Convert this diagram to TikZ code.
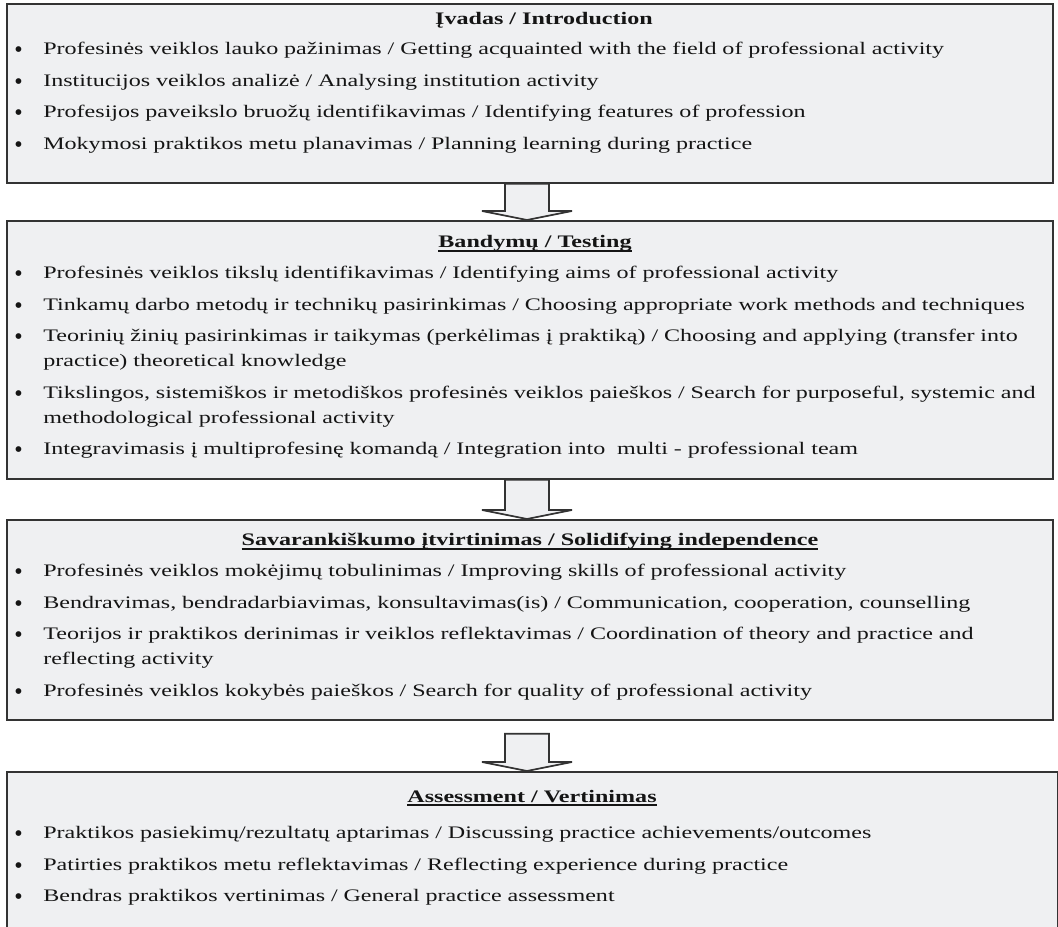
\documentclass[tikz,border=0pt]{standalone}
\usepackage{fontspec}
\setmainfont{Liberation Serif}[FakeStretch=1.368]
\newfontfamily\dotfont{Liberation Serif}
\usetikzlibrary{calc}

\definecolor{boxfill}{HTML}{EFF0F2}
\definecolor{boxline}{HTML}{333333}
\definecolor{ink}{HTML}{151515}

% one bullet line of a stage
\newcommand{\itm}[1]{\par\parskip=4.9pt\hangindent=21.75pt\hangafter=1\noindent
  \makebox[21.75pt][l]{\raisebox{-2.4pt}{\dotfont\fontsize{18}{18}\selectfont\textbullet}}#1}
\newcommand{\lined}[1]{\setbox0=\hbox{#1}\rlap{\rule[-2.7pt]{\wd0}{1pt}}\box0}

\tikzset{
  stage/.style={draw=boxline, fill=boxfill, line width=1.3pt, inner sep=0pt, anchor=north west},
  heading/.style={anchor=base, inner sep=0pt, text=ink, font=\fontsize{13.2}{15}\selectfont\bfseries},
  points/.style={anchor=base west, inner sep=0pt, text=ink, text width=800pt, align=left,
    font=\fontsize{13.2}{18.75}\selectfont},
  flow/.style={draw=boxline, fill=boxfill, line width=1.3pt, line join=miter}
}

\begin{document}
\begin{tikzpicture}[x=0.75pt,y=-0.75pt]
  \useasboundingbox (0,0) rectangle (1058,927);
  \clip (0,0) rectangle (1058,927);

  % the four stages
  \node[stage, minimum width=784.5pt, minimum height=134.25pt] (intro) at (6,3) {};
  \node[stage, minimum width=784.5pt, minimum height=193.5pt] (testing) at (6,220) {};
  \node[stage, minimum width=784.5pt, minimum height=150pt] (solid) at (6,519) {};
  \node[stage, minimum width=788.25pt, minimum height=150pt] (assess) at (6,771) {};

  \node[heading] (introT) at ($(intro.north west)+(538,22)$) {Įvadas / Introduction};
  \node[points] (introL) at ($(intro.north west)+(8,20)$) {%
    \itm{Profesinės veiklos lauko pažinimas / Getting acquainted with the field of professional activity}
    \itm{Institucijos veiklos analizė / Analysing institution activity}
    \itm{Profesijos paveikslo bruožų identifikavimas / Identifying features of profession}
    \itm{Mokymosi praktikos metu planavimas / Planning learning during practice}};

  \node[heading] (testingT) at ($(testing.north west)+(529,28)$) {\lined{Bandymų / Testing}};
  \node[points] (testingL) at ($(testing.north west)+(8,27)$) {%
    \itm{Profesinės veiklos tikslų identifikavimas / Identifying aims of professional activity}
    \itm{Tinkamų darbo metodų ir technikų pasirinkimas / Choosing appropriate work methods and techniques}
    \itm{Teorinių žinių pasirinkimas ir taikymas (perkėlimas į praktiką) / Choosing and applying (transfer into\newline
      practice) theoretical knowledge}
    \itm{Tikslingos, sistemiškos ir metodiškos profesinės veiklos paieškos / Search for purposeful, systemic and\newline
      methodological professional activity}
    \itm{Integravimasis į multiprofesinę komandą / Integration into\ \ multi - professional team}};

  \node[heading] (solidT) at ($(solid.north west)+(524,27)$) {\lined{Savarankiškumo įtvirtinimas / Solidifying independence}};
  \node[points] (solidL) at ($(solid.north west)+(8,26)$) {%
    \itm{Profesinės veiklos mokėjimų tobulinimas / Improving skills of professional activity}
    \itm{Bendravimas, bendradarbiavimas, konsultavimas(is) / Communication, cooperation, counselling}
    \itm{Teorijos ir praktikos derinimas ir veiklos reflektavimas / Coordination of theory and practice and\newline
      reflecting activity}
    \itm{Profesinės veiklos kokybės paieškos / Search for quality of professional activity}};

  \node[heading] (assessT) at ($(assess.north west)+(526,31)$) {\lined{Assessment / Vertinimas}};
  \node[points] (assessL) at ($(assess.north west)+(8,36)$) {%
    \itm{Praktikos pasiekimų/rezultatų aptarimas / Discussing practice achievements/outcomes}
    \itm{Patirties praktikos metu reflektavimas / Reflecting experience during practice}
    \itm{Bendras praktikos vertinimas / General practice assessment}};

  % block arrows between stages
  \coordinate (axis) at (527,0);
  \draw[flow] ($(axis |- intro.south)+(-22,0)$) -- ($(axis |- testing.north)+(-22,-9)$) -- ++(-23,0)
    -- (axis |- testing.north) -- ++(45,-9) -- ++(-23,0) -- ($(axis |- intro.south)+(22,0)$) -- cycle;
  \draw[flow] ($(axis |- testing.south)+(-22,0)$) -- ($(axis |- solid.north)+(-22,-9)$) -- ++(-23,0)
    -- (axis |- solid.north) -- ++(45,-9) -- ++(-23,0) -- ($(axis |- testing.south)+(22,0)$) -- cycle;
  \draw[flow] ($(axis |- solid.south)+(-22,13)$) -- ($(axis |- assess.north)+(-22,-9)$) -- ++(-23,0)
    -- (axis |- assess.north) -- ++(45,-9) -- ++(-23,0) -- ($(axis |- solid.south)+(22,13)$) -- cycle;
\end{tikzpicture}
\end{document}
